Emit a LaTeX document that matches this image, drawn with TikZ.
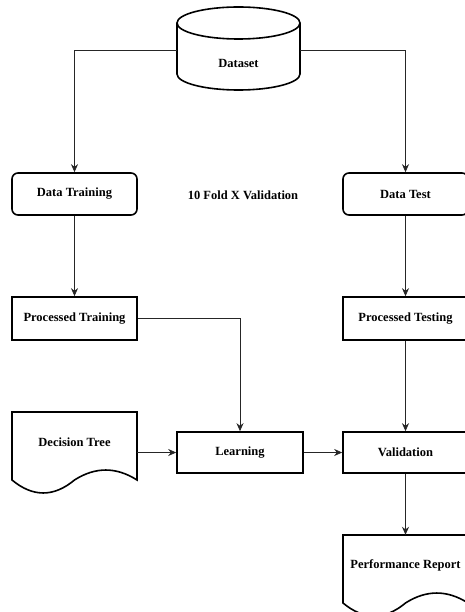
\documentclass[tikz,border=0pt]{standalone}
\usepackage{fontspec}
\setmainfont{Liberation Serif}
\usetikzlibrary{arrows.meta}

\tikzset{
  every node/.style={font=\fontsize{12.5}{14}\selectfont\bfseries},
  box/.style={draw, line width=1.6pt, minimum width=125, minimum height=42, inner sep=0pt},
  rbox/.style={box, rounded corners=6pt},
  link/.style={line width=0.8pt, draw=black!85, -{Stealth[length=8pt,width=7pt]}},
  pics/docsheet/.style={code={
    \draw[line width=1.6pt] (0,0) -- (125,0) -- (125,68)
      .. controls (104.2,54.7) and (83.3,54.7) .. (62.5,68)
      .. controls (41.7,85.3) and (20.8,85.3) .. (0,68) -- cycle;
  }}
}

\begin{document}
\begin{tikzpicture}[x=1pt, y=-1pt]
  \useasboundingbox (0,0) rectangle (465,612);
  \clip (0,0) rectangle (465,612);

  % Draw the database
  \draw[line width=1.6pt] (238.5,23) ellipse [x radius=61.5, y radius=16];
  \draw[line width=1.6pt] (177,23) -- (177,74) arc[start angle=180, end angle=0, x radius=61.5, y radius=16] -- (300,23);
  \node[minimum width=123, inner sep=0pt] (dataset) at (238.5,63.5) {Dataset};

  % Draw the boxes
  \node[rbox] (dtrain) at (74.5,194) {Data Training};
  \node (fold) at (243,195) {10 Fold X Validation};
  \node[rbox] (dtest) at (405.5,194) {Data Test};
  \node[box, minimum height=43] (ptrain) at (74.5,318.5) {Processed Training};
  \node[box, minimum height=43] (ptest) at (405.5,318.5) {Processed Testing};
  \node[box, minimum width=126, minimum height=41] (learn) at (240,452.5) {Learning};
  \node[box, minimum height=41] (valid) at (405.5,452.5) {Validation};

  % Draw the documents
  \pic at (12,412) {docsheet};
  \node[minimum width=125, minimum height=68, inner sep=0pt] (dtree) at (74.5,446) {};
  \node at (74.5,442) {Decision Tree};
  \pic at (343,535) {docsheet};
  \node[minimum width=125, minimum height=68, inner sep=0pt] (report) at (405.5,569) {};
  \node at (405.5,565) {Performance Report};

  % Draw the connectors
  \draw[link] ([yshift=13.5pt]dataset.west) -| (dtrain.north);
  \draw[link] ([yshift=13.5pt]dataset.east) -| (dtest.north);
  \draw[link] (dtrain) -- (ptrain);
  \draw[link] (dtest) -- (ptest);
  \draw[link] (ptrain.east) -| (learn.north);
  \draw[link] (ptest) -- (valid);
  \draw[link] (dtree.east |- learn) -- (learn);
  \draw[link] (learn) -- (valid);
  \draw[link] (valid) -- (report.north);
\end{tikzpicture}
\end{document}
